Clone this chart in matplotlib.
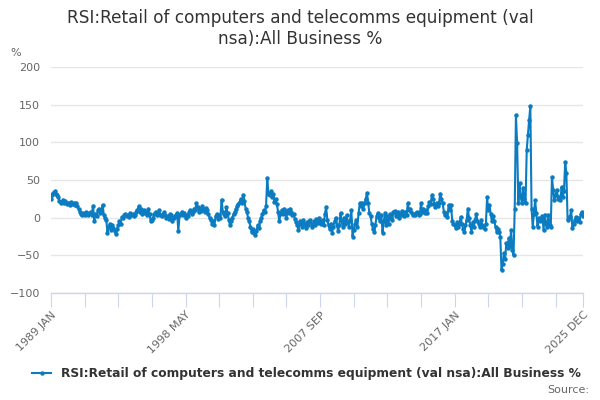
import matplotlib
matplotlib.use("Agg")
from matplotlib import pyplot as plt

title = "RSI:Retail of computers and telecomms equipment (val\nnsa):All Business %"
series_name = "RSI:Retail of computers and telecomms equipment (val nsa):All Business %"

months = ["JAN", "FEB", "MAR", "APR", "MAY", "JUN", "JUL", "AUG", "SEP", "OCT", "NOV", "DEC"]
years = list(range(1989, 2026))

# monthly values, one row per year
values = [
    25, 30, 33, 35, 31, 30, 28, 22, 20, 21, 24, 20,      # 1989
    22, 18, 19, 20, 17, 21, 18, 19, 17, 20, 15, 12,      # 1990
    8, 5, 3, 6, 4, 7, 5, 3, 6, 8, 4, 16,                 # 1991
    -4, 5, 2, 10, 12, 6, 8, 17, 3, 0, -3, -20,           # 1992
    -12, -8, -16, -10, -14, -18, -22, -15, -10, -5, -8, 1,  # 1993
    0, 3, 5, 2, 4, 1, 6, 3, 5, 2, 4, 8,                  # 1994
    10, 15, 8, 12, 5, 10, 6, 8, 4, 12, 5, -5,            # 1995
    -3, 0, 5, 8, 3, 6, 10, 4, 2, 5, 7, 3,                # 1996
    0, 2, -2, 5, 3, -5, 0, 2, 4, 6, -18, 3,              # 1997
    5, 8, 3, 6, 0, 4, 2, 7, 10, 5, 8, 12,                # 1998
    10, 19, 14, 8, 12, 9, 15, 11, 7, 13, 10, 5,          # 1999
    0, -3, -8, -5, -10, 2, 5, -2, 3, 0, 24, 8,           # 2000
    5, 2, 14, 6, -3, -10, -5, 0, 5, 8, 12, 15,           # 2001
    18, 21, 25, 20, 30, 22, 12, 8, 0, -5, -12, -19,      # 2002
    -15, -20, -23, -18, -10, -14, -5, 0, 5, 10, 8, 15,   # 2003
    52, 32, 30, 35, 28, 32, 21, 25, 18, 8, -5, 5,        # 2004
    10, 5, 12, 8, 0, 10, 6, 12, 8, 3, 5, -2,             # 2005
    -6, -10, -16, -5, -8, -12, -3, -8, -14, -6, -10, -5,  # 2006
    -3, -12, -8, -5, -10, -2, -7, 0, -4, -9, -3, -10,    # 2007
    5, 14, -3, -10, -15, -8, -20, -12, -5, 0, -10, -18,  # 2008
    -10, 6, -5, -12, 0, -8, 3, -6, -12, -3, 10, -25,     # 2009
    -16, -8, -3, -12, 6, 19, 15, 20, 12, 19, 25, 33,     # 2010
    19, 6, 2, -8, -15, -19, -10, 2, 6, 0, -5, 3,         # 2011
    -20, -5, 6, -10, 2, -8, 5, 0, -3, 7, 9, 2,           # 2012
    5, 8, 0, 3, 9, 6, 2, 8, 4, 19, 10, 12,               # 2013
    7, 3, 5, 4, 6, 7, 3, 5, 19, 8, 12, 6,                # 2014
    10, 6, 15, 21, 18, 30, 25, 18, 14, 20, 16, 20,       # 2015
    32, 25, 19, 8, 3, 6, 1, 17, 10, 17, -5, -8,          # 2016
    -10, -14, -6, -12, -8, 1, -8, -15, -19, -10, -3, 12,  # 2017
    -1, -10, -19, -6, -12, -3, 5, -5, -8, -12, -3, -10,  # 2018
    -12, -15, -8, 27, 10, 17, 5, -5, 2, -5, -12, -19,    # 2019
    -15, -19, -25, -70, -61, -47, -55, -34, -40, -27, -38, -16,  # 2020
    -43, -50, 12, 136, 99, 19, 46, 28, 19, 40, 25, 19,   # 2021
    90, 110, 130, 148, 12, -12, 5, 23, 6, -12, 0, -5,    # 2022
    -3, 2, -16, 4, -8, -12, 3, -10, -12, 54, 37, 23,     # 2023
    30, 37, 25, 28, 23, 41, 28, 35, 74, 59, -3, 1,       # 2024
    1, 10, -14, -8, -3, 1, -5, 0, -6, 5, 8, 2,           # 2025
]

labels = ["%d %s" % (y, m) for y in years for m in months]
x = list(range(len(values)))

line_color = "#0b7cc1"
grid_color = "#e6e6e6"
axis_color = "#ccd6eb"
text_color = "#666666"

fig = plt.figure(figsize=(6, 4), dpi=100)
ax = fig.add_axes([0.085, 0.2675, 0.887, 0.565])

ax.plot(x, values, color=line_color, linewidth=1.5, marker="o", markersize=2.2, zorder=3)

ax.set_xlim(0, len(values) - 1)
ax.set_ylim(-100, 200)
ax.set_yticks([-100, -50, 0, 50, 100, 150, 200])
ax.grid(axis="y", color=grid_color, linewidth=1)
ax.set_axisbelow(True)

for s in ["top", "right", "left"]:
    ax.spines[s].set_visible(False)
ax.spines["bottom"].set_color(axis_color)
ax.spines["bottom"].set_linewidth(1)

last = len(values) - 1
tick_pos = list(range(0, last, 28)) + [last]
ax.set_xticks(tick_pos)
ax.set_xticklabels([labels[p] if (p % 112 == 0 or p == last) else "" for p in tick_pos],
                   rotation=45, ha="right", rotation_mode="anchor")
ax.tick_params(axis="x", length=10, color=axis_color, labelsize=8, labelcolor=text_color, pad=2)
ax.tick_params(axis="y", length=0, labelsize=8, labelcolor=text_color, pad=8)

fig.text(0.5, 0.978, title, ha="center", va="top", fontsize=12.2, color="#333333", linespacing=1.25)
fig.text(0.017, 0.86, "%", fontsize=8, color=text_color)

ax.legend([ax.lines[0]], [series_name], loc="center", bbox_to_anchor=(0.48, -0.358),
          frameon=False, handlelength=1.6, prop={"weight": "bold", "size": 8.8})
leg = ax.get_legend()
for t in leg.get_texts():
    t.set_color("#333333")

fig.text(0.982, 0.012, "Source:", ha="right", va="bottom", fontsize=8, color=text_color)

fig.savefig("out.png", dpi=100)
